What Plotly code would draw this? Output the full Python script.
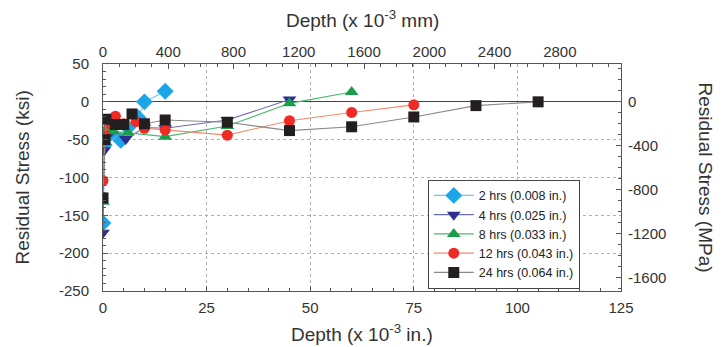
import plotly.graph_objects as go

# ---- data (depth in 1e-3 in., stress in ksi) ----
names = ["2 hrs (0.008 in.)", "4 hrs (0.025 in.)", "8 hrs (0.033 in.)",
         "12 hrs (0.043 in.)", "24 hrs (0.064 in.)"]

d_2h = [0, 0.3, 2, 4.3, 6, 8.5, 10, 15]
s_2h = [-160, -57, -41, -51, -34, -21, 0, 14]

d_4h = [0, 0.3, 2, 5.5, 10, 15, 30, 45]
s_4h = [-173, -64, -39, -49, -34, -35, -24, 3]

d_8h = [0, 0.5, 2.5, 6, 15, 30, 45, 60]
s_8h = [-132, -37, -39, -41, -46, -32, -2, 13]

d_12h = [0, 0.5, 1.5, 3, 5, 8, 10, 15, 30, 45, 60, 75]
s_12h = [-104, -44, -29, -19, -29, -26, -35, -37, -44, -25, -14, -4]

d_24h = [0, 0.5, 0.7, 3, 5, 7, 10, 15, 30, 45, 60, 75, 90, 105]
s_24h = [-127, -50, -23, -30, -30, -16, -29, -24, -27, -38, -33, -20, -5, 0]

x_ticks = [0, 25, 50, 75, 100, 125]
x2_ticks = [0, 400, 800, 1200, 1600, 2000, 2400, 2800]
y_ticks = [50, 0, -50, -100, -150, -200, -250]
y2_ticks = [0, -400, -800, -1200, -1600]

KSI_TO_MPA = 6.895
IN_TO_MM = 25.4

series = [
    (d_2h, s_2h, "diamond", "#1aa6e8", "#6cc8f0", 13),
    (d_4h, s_4h, "triangle-down", "#2d2f8e", "#6a6cb0", 12),
    (d_8h, s_8h, "triangle-up", "#1b9e4b", "#4cb86f", 12),
    (d_12h, s_12h, "circle", "#ee2b24", "#f58a6e", 11),
    (d_24h, s_24h, "square", "#231f20", "#8a8a8a", 11),
]

fig = go.Figure()
for (dx, sy, sym, mc, lc, ms), nm in zip(series, names):
    fig.add_trace(go.Scatter(
        x=dx, y=sy, name=nm, mode="lines+markers",
        line=dict(color=lc, width=1.1),
        marker=dict(symbol=sym, color=mc, size=ms, line=dict(width=0)),
    ))

# empty trace to bind secondary axes
fig.add_trace(go.Scatter(x=[], y=[], xaxis="x2", yaxis="y2", showlegend=False,
                         hoverinfo="skip"))

font_family = "Liberation Sans, Arial, sans-serif"
tick_font = dict(family=font_family, size=15, color="#333333")
axis_line = "#555555"

xr = [0, 125]
yr = [-250, 50]

# page body has an 8px margin, so the figure is laid out 8px smaller
fig.update_layout(
    width=715, height=339,
    margin=dict(l=95, r=102, t=56, b=56),
    paper_bgcolor="white", plot_bgcolor="white",
    font=dict(family=font_family, color="#333333"),
    showlegend=True,
    legend=dict(
        x=0.627, y=0.49, xanchor="left", yanchor="top",
        bgcolor="white", bordercolor="#444444", borderwidth=1,
        font=dict(family=font_family, size=12.5, color="#222222"),
        tracegroupgap=0, itemwidth=40,
    ),
    xaxis=dict(
        range=xr, tickvals=x_ticks, ticktext=[str(v) for v in x_ticks],
        ticks="inside", ticklen=5, tickcolor=axis_line,
        showline=True, linecolor=axis_line, linewidth=1,
        showgrid=True, gridcolor="#b0b0b0", griddash="dot", gridwidth=1,
        zeroline=False, tickfont=tick_font, ticklabelstandoff=3,
        minor=dict(dtick=5, tick0=0, ticks="inside", ticklen=3,
                   tickcolor=axis_line, showgrid=False),
    ),
    xaxis2=dict(
        range=[xr[0] * IN_TO_MM, xr[1] * IN_TO_MM], overlaying="x", side="top",
        anchor="y",
        tickvals=x2_ticks, ticktext=[str(v) for v in x2_ticks],
        ticks="inside", ticklen=5, tickcolor=axis_line,
        showline=True, linecolor=axis_line, linewidth=1,
        showgrid=False, zeroline=False, tickfont=tick_font,
        ticklabelstandoff=0,
        minor=dict(dtick=100, tick0=0, ticks="inside", ticklen=3,
                   tickcolor=axis_line, showgrid=False),
    ),
    yaxis=dict(
        range=yr, tickvals=y_ticks, ticktext=[str(v) for v in y_ticks],
        ticks="inside", ticklen=5, tickcolor=axis_line,
        showline=True, linecolor=axis_line, linewidth=1,
        showgrid=True, gridcolor="#b0b0b0", griddash="dot", gridwidth=1,
        zeroline=True, zerolinecolor="#444444", zerolinewidth=1,
        tickfont=tick_font, ticklabelstandoff=10,
        minor=dict(dtick=10, tick0=0, ticks="inside", ticklen=3,
                   tickcolor=axis_line, showgrid=False),
    ),
    yaxis2=dict(
        range=[yr[0] * KSI_TO_MPA, yr[1] * KSI_TO_MPA], overlaying="y",
        side="right", anchor="x",
        tickvals=y2_ticks, ticktext=[str(v) for v in y2_ticks],
        ticks="inside", ticklen=5, tickcolor=axis_line,
        showline=True, linecolor=axis_line, linewidth=1,
        showgrid=False, zeroline=False, tickfont=tick_font,
        ticklabelstandoff=3,
        minor=dict(dtick=100, tick0=0, ticks="inside", ticklen=3,
                   tickcolor=axis_line, showgrid=False),
    ),
)

title_font = dict(family=font_family, size=19, color="#333333")
fig.add_annotation(text="Depth (x 10<sup>-3</sup> in.)", xref="paper", yref="paper",
                   x=0.5, y=0, yshift=-42, xanchor="center", yanchor="middle",
                   showarrow=False, font=title_font)
fig.add_annotation(text="Depth (x 10<sup>-3</sup> mm)", xref="paper", yref="paper",
                   x=0.5, y=1, yshift=45, xanchor="center", yanchor="middle",
                   showarrow=False, font=title_font)
fig.add_annotation(text="Residual Stress (ksi)", xref="paper", yref="paper",
                   x=0, y=0.5, xshift=-81, xanchor="center", yanchor="middle",
                   textangle=-90, showarrow=False, font=title_font)
fig.add_annotation(text="Residual Stress (MPa)", xref="paper", yref="paper",
                   x=1, y=0.5, xshift=84, xanchor="center", yanchor="middle",
                   textangle=90, showarrow=False, font=title_font)

fig.write_html("out.html")
